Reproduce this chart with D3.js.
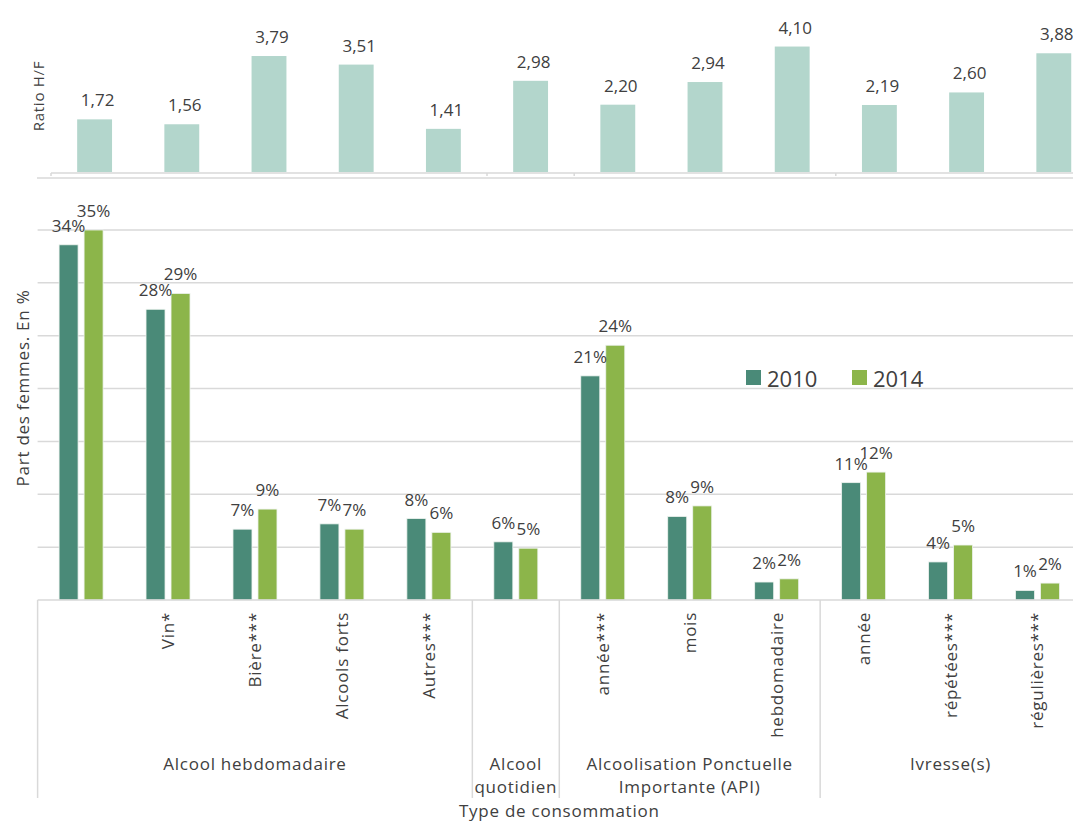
<!DOCTYPE html>
<html lang="fr">
<head>
<meta charset="utf-8">
<script src="https://cdn.jsdelivr.net/npm/d3@7"></script>
<style>
  html, body { margin: 0; padding: 0; background: #fff; overflow: hidden; }
  svg { display: block; font-family: "Open Sans", "Noto Sans", sans-serif; }
  text { fill: #404040; }
  .spaced { letter-spacing: 0.75px; }
</style>
</head>
<body>
<svg id="chart" width="1073" height="822"></svg>
<script>
// Consumption types (sub-labels under the bars)
const categories = ["", "Vin*", "Bière***", "Alcools forts", "Autres***", "",
                    "année***", "mois", "hebdomadaire", "année", "répétées***", "régulières***"];

// Share of women (%) for each survey year
const series = ["2010", "2014"];
const values2010 = [33.6, 27.5, 6.7, 7.2, 7.7, 5.5, 21.2, 7.9, 1.7, 11.1, 3.6, 0.9];
const values2014 = [35.0, 29.0, 8.6, 6.7, 6.4, 4.9, 24.1, 8.9, 2.0, 12.1, 5.2, 1.6];

// Men / women ratio
const ratioHF = [1.72, 1.56, 3.79, 3.51, 1.41, 2.98, 2.20, 2.94, 4.10, 2.19, 2.60, 3.88];

// Category groups (first index, index after last, label lines)
const groupLabels = [["Alcool hebdomadaire"], ["Alcool", "quotidien"],
                     ["Alcoolisation Ponctuelle", "Importante (API)"], ["Ivresse(s)"]];
const groupStarts = [0, 5, 6, 9];
const groupEnds = [5, 6, 9, 12];

// Y gridline values (%)
const yTicks = [0, 5, 10, 15, 20, 25, 30, 35];

const colors = { "2010": "#4a8a78", "2014": "#8cb54a", ratio: "#b3d6cc", grid: "#d9d9d9" };

const svg = d3.select("#chart");
const idx = d3.range(categories.length);

// ---------- Main panel ----------
const x = d3.scaleBand().domain(idx).range([37.6, 37.6 + 12 * 86.95]).padding(0);
const xs = d3.scaleBand().domain(series).range([-22, 22]).paddingInner(0.24);
const y = d3.scaleLinear().domain([0, 35]).range([600, 230]);

const main = svg.append("g");

main.append("g").selectAll("line").data(yTicks.slice(1)).join("line")
  .attr("x1", x.range()[0]).attr("x2", 1073)
  .attr("y1", d => y(d)).attr("y2", d => y(d))
  .attr("stroke", colors.grid).attr("stroke-width", 1.5);

const rows = idx.map(i => ({ i, "2010": values2010[i], "2014": values2014[i] }));

const grp = main.append("g").selectAll("g").data(rows).join("g")
  .attr("transform", d => `translate(${x(d.i) + x.bandwidth() / 2},0)`);

grp.selectAll("rect").data(d => series.map(s => ({ s, v: d[s] }))).join("rect")
  .attr("x", d => xs(d.s)).attr("width", xs.bandwidth())
  .attr("y", d => y(d.v)).attr("height", d => y(0) - y(d.v))
  .attr("fill", d => colors[d.s])
  .attr("stroke", "#eef3ef").attr("stroke-width", 0.8);

grp.selectAll("text").data(d => series.map(s => ({ s, v: d[s] }))).join("text")
  .attr("x", d => xs(d.s) + xs.bandwidth() / 2)
  .attr("y", d => y(d.v) - 13)
  .attr("text-anchor", "middle")
  .attr("font-size", 17)
  .text(d => Math.round(d.v) + "%");

// baseline and group separators
const axisG = main.append("g").attr("stroke", colors.grid).attr("stroke-width", 1.5);
axisG.append("line").attr("x1", x.range()[0]).attr("x2", 1073).attr("y1", y(0)).attr("y2", y(0));
const seps = [0, 5, 6, 9, 12];
axisG.selectAll(".sep").data(seps).join("line")
  .attr("x1", d => x.range()[0] + d * x.step()).attr("x2", d => x.range()[0] + d * x.step())
  .attr("y1", y(0)).attr("y2", 798);

// rotated category labels
main.append("g").selectAll("text").data(idx).join("text")
  .attr("class", "spaced")
  .attr("transform", i => `translate(${x(i) + x.bandwidth() / 2},612) rotate(-90)`)
  .attr("text-anchor", "end").attr("dy", "0.35em")
  .attr("font-size", 17)
  .text(i => categories[i]);

// group labels
const gl = main.append("g").selectAll("text").data(groupLabels).join("text")
  .attr("class", "spaced")
  .attr("text-anchor", "middle").attr("font-size", 17)
  .attr("x", (d, k) => x.range()[0] + (groupStarts[k] + groupEnds[k]) / 2 * x.step())
  .attr("y", 770);
gl.selectAll("tspan").data(d => d).join("tspan")
  .attr("x", function () { return d3.select(this.parentNode).attr("x"); })
  .attr("dy", (d, j) => j === 0 ? 0 : 23)
  .text(d => d);

svg.append("text").attr("class", "spaced")
  .attr("x", (x.range()[0] + x.range()[1]) / 2).attr("y", 817)
  .attr("text-anchor", "middle").attr("font-size", 17).text("Type de consommation");

svg.append("text").attr("class", "spaced")
  .attr("transform", "translate(29,388) rotate(-90)")
  .attr("text-anchor", "middle").attr("font-size", 17).text("Part des femmes. En %");

// legend
const legend = svg.append("g").attr("transform", "translate(746,370)");
series.forEach((s, k) => {
  const lg = legend.append("g").attr("transform", `translate(${k * 106},0)`);
  lg.append("rect").attr("width", 15).attr("height", 15).attr("fill", colors[s]);
  lg.append("text").attr("x", 21).attr("y", 17).attr("font-size", 22).attr("fill", "#505050").text(s);
});

// ---------- Ratio panel ----------
const xr = d3.scaleBand().domain(idx).range([51, 51 + 12 * 87.2]).paddingInner(0.6).paddingOuter(0.3);
const yr = d3.scaleLinear().domain([0, 4.5]).range([172, 172 - 4.5 * 30.6]);

const ratioPanel = svg.append("g");
ratioPanel.selectAll("rect").data(idx).join("rect")
  .attr("x", i => xr(i)).attr("width", xr.bandwidth())
  .attr("y", i => yr(ratioHF[i])).attr("height", i => yr(0) - yr(ratioHF[i]))
  .attr("fill", colors.ratio);

ratioPanel.selectAll("text").data(idx).join("text")
  .attr("x", i => xr(i) + xr.bandwidth() / 2 + 3)
  .attr("y", i => yr(ratioHF[i]) - 13)
  .attr("text-anchor", "middle").attr("font-size", 17)
  .text(i => d3.format(".2f")(ratioHF[i]).replace(".", ","));

const ratioAxis = ratioPanel.append("g").attr("stroke", colors.grid).attr("stroke-width", 1.5);
ratioAxis.append("line").attr("x1", 51).attr("x2", 1073).attr("y1", 173).attr("y2", 173);
ratioAxis.selectAll(".tk").data(seps.slice(0, 4)).join("line")
  .attr("x1", d => 51 + d * xr.step()).attr("x2", d => 51 + d * xr.step())
  .attr("y1", 173).attr("y2", 176);
ratioAxis.append("line").attr("x1", 37).attr("x2", 1073).attr("y1", 178).attr("y2", 178);

svg.append("text").attr("class", "spaced")
  .attr("transform", "translate(44,96) rotate(-90)")
  .attr("text-anchor", "middle").attr("font-size", 15).text("Ratio H/F");
</script>
</body>
</html>
